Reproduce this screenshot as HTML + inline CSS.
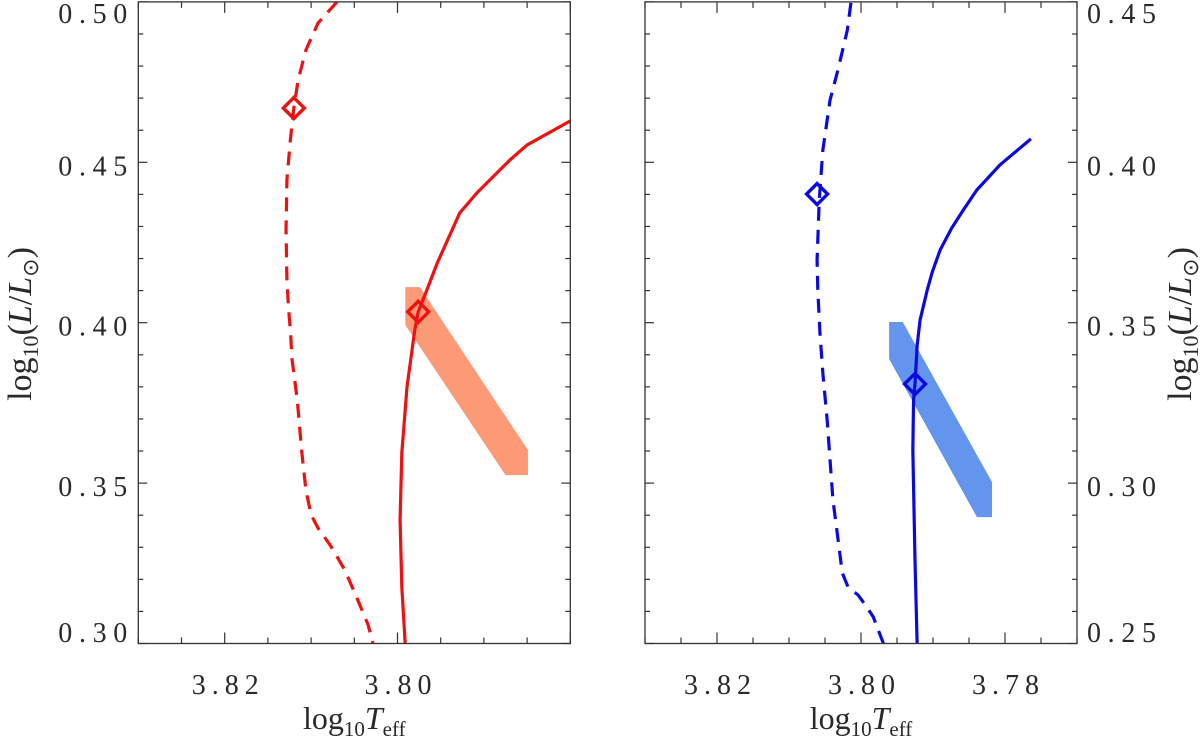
<!DOCTYPE html>
<html><head><meta charset="utf-8"><style>
html,body{margin:0;padding:0;background:#fff}
svg{display:block}
text{font-family:"Liberation Serif",serif;fill:#2a2a2a}
</style></head><body>
<svg id="chart" width="1200" height="741" viewBox="0 0 1200 741" xmlns="http://www.w3.org/2000/svg">
<g id="left"></g>
<g id="right"></g>
</svg>
<script>
// ---- Left panel data ----
const leftXTicks = [3.82, 3.80];
const leftYTicks = [0.30, 0.35, 0.40, 0.45, 0.50];
const leftDashT = [3.8070,3.8092,3.8106,3.8115,3.8120,3.8124,3.8128,3.8129,3.8128,3.8126,3.8124,3.8122,3.8116,3.8111,3.8106,3.8100,3.8092,3.8078,3.8061,3.8046,3.8034,3.8028];
const leftDashL = [0.5000,0.4934,0.4850,0.4757,0.4669,0.4570,0.4445,0.4289,0.4133,0.4040,0.3977,0.3884,0.3759,0.3603,0.3478,0.3401,0.3360,0.3307,0.3229,0.3136,0.3058,0.2995];
const leftSolidT = [3.7991,3.7995,3.7997,3.7995,3.7989,3.7980,3.7976,3.7966,3.7954,3.7943,3.7928,3.7908,3.7870,3.7850,3.7800];
const leftSolidL = [0.2995,0.3176,0.3385,0.3594,0.3800,0.3977,0.4034,0.4102,0.4186,0.4252,0.4342,0.4405,0.4507,0.4554,0.4629];
const leftMarkT = [3.8120, 3.7976];
const leftMarkL = [0.4669, 0.4034];
const leftBandT = [3.7991,3.7974,3.7849,3.7849,3.7875,3.7991];
const leftBandL = [0.4111,0.4111,0.3603,0.3525,0.3525,0.3993];
// ---- Right panel data ----
const rightXTicks = [3.82, 3.80, 3.78];
const rightYTicks = [0.25, 0.30, 0.35, 0.40, 0.45];
const rightDashT = [3.8014,3.8019,3.8032,3.8043,3.8053,3.8058,3.8061,3.8060,3.8057,3.8053,3.8047,3.8043,3.8039,3.8033,3.8026,3.8018,3.8004,3.7992,3.7983,3.7968];
const rightDashL = [0.4497,0.4412,0.4288,0.4194,0.4038,0.3882,0.3695,0.3602,0.3468,0.3343,0.3197,0.3072,0.2948,0.2844,0.2720,0.2676,0.2651,0.2614,0.2583,0.2495];
const rightSolidT = [3.7922,3.7925,3.7928,3.7927,3.7925,3.7922,3.7918,3.7908,3.7901,3.7890,3.7874,3.7858,3.7839,3.7807,3.7764];
const rightSolidL = [0.2495,0.2760,0.3103,0.3259,0.3309,0.3430,0.3508,0.3602,0.3658,0.3727,0.3795,0.3851,0.3914,0.3992,0.4073];
const rightMarkT = [3.8061, 3.7925];
const rightMarkL = [0.3901, 0.3309];
const rightBandT = [3.7961,3.7942,3.7818,3.7818,3.7839,3.7961];
const rightBandL = [0.3502,0.3502,0.3003,0.2894,0.2894,0.3387];

const NS = "http://www.w3.org/2000/svg";
function mk(tag, attrs, parent){const e=document.createElementNS(NS,tag);for(const k in attrs)e.setAttribute(k,attrs[k]);parent.appendChild(e);return e;}

function panel(g, o){
  const X0=o.x0, X1=o.x0+432, Y0=1.9, Y1=643.5;
  const sx = t => X0 + (o.tmax - t)/(o.tmax - o.tmin)*(X1-X0);
  const sy = l => Y1 - (l - o.lmin)/(o.lmax - o.lmin)*(Y1-Y0);
  const clip = mk('clipPath',{id:'clip'+o.id},g);
  mk('rect',{x:X0,y:Y0,width:X1-X0,height:Y1-Y0},clip);
  const plot = mk('g',{'clip-path':'url(#clip'+o.id+')'},g);
  const band = mk('polygon',{points:o.bandT.map((t,i)=>sx(t)+','+sy(o.bandL[i])).join(' '),fill:o.bandColor},plot);
  
  
  const dash = mk('polyline',{points:o.dashT.map((t,i)=>sx(t)+','+sy(o.dashL[i])).join(' '),fill:'none',stroke:o.color,'stroke-width':3.2,'stroke-dasharray':'14 9'},plot);
  
  
  const sol = mk('polyline',{points:o.solT.map((t,i)=>sx(t)+','+sy(o.solL[i])).join(' '),fill:'none',stroke:o.color,'stroke-width':3.2},plot);
  
  
  o.markT.forEach((t,i)=>{
    const cx=sx(t), cy=sy(o.markL[i]), r=10.5;
    const d = mk('polygon',{points:`${cx},${cy-r} ${cx+r},${cy} ${cx},${cy+r} ${cx-r},${cy}`,fill:'none',stroke:o.color,'stroke-width':3.4},plot);
    
    
  });
  const fr = mk('rect',{x:X0,y:Y0,width:X1-X0,height:Y1-Y0,fill:'none',stroke:'#333','stroke-width':1.3},g);
  
  
  for(let k=Math.ceil(o.tmin/0.005-1e-6);k*0.005<=o.tmax+1e-9;k++){
    const t=k*0.005, x=sx(t); const major=Math.abs(t/0.02-Math.round(t/0.02))<1e-6;
    const len=major?11:6;
    mk('line',{x1:x,y1:Y1,x2:x,y2:Y1-len,stroke:'#333','stroke-width':1.2},g);
    mk('line',{x1:x,y1:Y0,x2:x,y2:Y0+len,stroke:'#333','stroke-width':1.2},g);
  }
  o.xTicks.forEach(t=>{
    const tx=mk('text',{x:sx(t)-33,y:694,'font-size':28,textLength:67,lengthAdjust:'spacing'},g);
    tx.textContent=t.toFixed(2);
    
    
  });
  for(let k=Math.round(o.lmin/0.01);k<=Math.round(o.lmax/0.01);k++){
    const l=k*0.01, y=sy(l); const major=k%5===0; const len=major?9:5;
    mk('line',{x1:X0,y1:y,x2:X0+len,y2:y,stroke:'#333','stroke-width':1.2},g);
    mk('line',{x1:X1,y1:y,x2:X1-len,y2:y,stroke:'#333','stroke-width':1.2},g);
  }
  o.yTicks.forEach(l=>{
    const y=sy(l);
    const tx=mk('text',{x:o.side==='left'?X0-80:X1+10,y:Math.min(Math.max(y+13,23),642),'font-size':28,textLength:69,lengthAdjust:'spacing'},g);
    tx.textContent=l.toFixed(2);
    
    
  });
  const xt=mk('text',{x:(X0+X1)/2,y:729,'font-size':32,'text-anchor':'middle'},g);
  xt.innerHTML='log<tspan font-size="21" dy="7">10</tspan><tspan dy="-7" font-style="italic">T</tspan><tspan font-size="21" dy="7">eff</tspan>';
  
  
  const yx = o.side==='left'?31:1191;
  const yt=mk('text',{x:0,y:0,'font-size':34,'text-anchor':'middle',transform:`translate(${yx},324) rotate(-90)`},g);
  yt.innerHTML='log<tspan font-size="22" dy="7">10</tspan><tspan dy="-7">(</tspan><tspan font-style="italic">L</tspan>/<tspan font-style="italic">L</tspan><tspan font-size="22" dy="7">⊙</tspan><tspan dy="-7">)</tspan>';
  
  
}
panel(document.getElementById('left'),{id:'left',x0:138.3,tmax:3.83,tmin:3.78,lmin:0.30,lmax:0.50,side:'left',color:'#ee1111',bandColor:'#fc9a78',
  xTicks:leftXTicks,yTicks:leftYTicks,dashT:leftDashT,dashL:leftDashL,solT:leftSolidT,solL:leftSolidL,markT:leftMarkT,markL:leftMarkL,bandT:leftBandT,bandL:leftBandL});
panel(document.getElementById('right'),{id:'right',x0:645,tmax:3.83,tmin:3.77,lmin:0.25,lmax:0.45,side:'right',color:'#0a0ae0',bandColor:'#6495ed',
  xTicks:rightXTicks,yTicks:rightYTicks,dashT:rightDashT,dashL:rightDashL,solT:rightSolidT,solL:rightSolidL,markT:rightMarkT,markL:rightMarkL,bandT:rightBandT,bandL:rightBandL});
</script>
</body></html>
